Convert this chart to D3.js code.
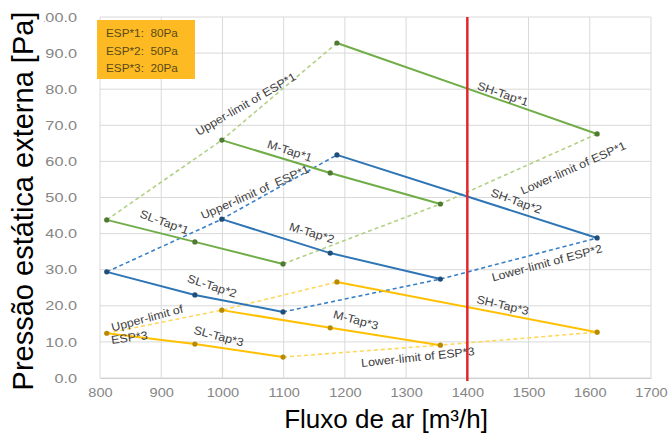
<!DOCTYPE html>
<html>
<head>
<meta charset="utf-8">
<script src="https://cdn.jsdelivr.net/npm/d3@7"></script>
<style>
  html, body { margin: 0; padding: 0; background: #fff; }
  svg { display: block; font-family: "Liberation Sans", Arial, sans-serif; }
</style>
</head>
<body>
<svg id="chart" width="668" height="438"></svg>
<script>
// ---------- DATA ----------
const xTicks = [800, 900, 1000, 1100, 1200, 1300, 1400, 1500, 1600, 1700];
const yTicks = [0, 10, 20, 30, 40, 50, 60, 70, 80, 90, 100];
const refFlow = 1400;

// ESP*1 (80Pa)
const esp1_SL_x = [811, 955, 1099], esp1_SL_y = [43.8, 37.7, 31.6];
const esp1_M_x  = [999, 1176, 1356], esp1_M_y  = [65.9, 56.8, 48.2];
const esp1_SH_x = [1187, 1612],      esp1_SH_y = [92.8, 67.6];
// ESP*2 (50Pa)
const esp2_SL_x = [811, 955, 1099], esp2_SL_y = [29.4, 23.0, 18.3];
const esp2_M_x  = [999, 1176, 1356], esp2_M_y  = [44.0, 34.6, 27.4];
const esp2_SH_x = [1187, 1612],      esp2_SH_y = [61.8, 38.8];
// ESP*3 (20Pa)
const esp3_SL_x = [811, 955, 1099], esp3_SL_y = [12.4, 9.4, 5.8];
const esp3_M_x  = [999, 1176, 1356], esp3_M_y  = [18.8, 13.9, 9.1];
const esp3_SH_x = [1187, 1612],      esp3_SH_y = [26.6, 12.7];

const legendLines = ["ESP*1:  80Pa", "ESP*2:  50Pa", "ESP*3:  20Pa"];

// annotation texts anchored in data units
const labels = [
  {t: "Upper-limit of ESP*1", x: 1038, y: 75.9, a: -30},
  {t: "SH-Tap*1", x: 1458, y: 78.7, a: 19},
  {t: "M-Tap*1", x: 1110, y: 62.9, a: 18},
  {t: "Upper-limit of  ESP*1", x: 1053, y: 51.5, a: -24},
  {t: "M-Tap*2", x: 1146, y: 40.2, a: 17},
  {t: "SL-Tap*1", x: 905, y: 43.2, a: 20},
  {t: "SL-Tap*2", x: 983, y: 25.5, a: 18},
  {t: "Upper-limit of", x: 877, y: 16.6, a: -15},
  {t: "ESP*3", x: 848, y: 11.2, a: -8},
  {t: "SL-Tap*3", x: 994, y: 11.6, a: 15},
  {t: "M-Tap*3", x: 1218, y: 16.1, a: 15},
  {t: "Lower-limit of ESP*3", x: 1319, y: 5.8, a: -6},
  {t: "SH-Tap*3", x: 1458, y: 20.2, a: 13},
  {t: "Lower-limit of ESP*2", x: 1530, y: 31.9, a: -15},
  {t: "SH-Tap*2", x: 1480, y: 49.0, a: 20},
  {t: "Lower-limit of ESP*1", x: 1573, y: 58.2, a: -24}
];

// ---------- LAYOUT ----------
const svg = d3.select("#chart");
const x = d3.scaleLinear().domain([800, 1700]).range([100, 651]);
const y = d3.scaleLinear().domain([0, 100]).range([378, 17]);

function stretch(sel, k) {
  sel.each(function () {
    const w = this.getComputedTextLength();
    d3.select(this).attr("textLength", w * k).attr("lengthAdjust", "spacingAndGlyphs");
  });
}

const zip = (xs, ys) => xs.map((v, i) => [v, ys[i]]);
const groups = [
  {SL: zip(esp1_SL_x, esp1_SL_y), M: zip(esp1_M_x, esp1_M_y), SH: zip(esp1_SH_x, esp1_SH_y),
   solid: "#70AD47", dash: "#B2D183", dot: "#4E7A32"},
  {SL: zip(esp2_SL_x, esp2_SL_y), M: zip(esp2_M_x, esp2_M_y), SH: zip(esp2_SH_x, esp2_SH_y),
   solid: "#2E75B6", dash: "#3A80C4", dot: "#1F4E79"},
  {SL: zip(esp3_SL_x, esp3_SL_y), M: zip(esp3_M_x, esp3_M_y), SH: zip(esp3_SH_x, esp3_SH_y),
   solid: "#FFC000", dash: "#FFD75A", dot: "#B88A00"}
];

// grid
const grid = svg.append("g");
grid.selectAll("line.h").data(yTicks).join("line")
  .attr("x1", x(800)).attr("x2", x(1700))
  .attr("y1", d => y(d)).attr("y2", d => y(d))
  .attr("stroke", "#D9D9D9").attr("stroke-width", 1);
grid.selectAll("line.v").data(xTicks).join("line")
  .attr("y1", y(0)).attr("y2", y(100))
  .attr("x1", d => x(d)).attr("x2", d => x(d))
  .attr("stroke", "#D9D9D9").attr("stroke-width", 1);

// axes (tick labels only)
const xAxis = d3.axisBottom(x).tickValues(xTicks).tickSize(0).tickPadding(10).tickFormat(d3.format("d"));
const gx = svg.append("g").attr("transform", `translate(0,${y(0)})`).call(xAxis);
gx.select(".domain").attr("stroke", "#D0D0D0");
gx.selectAll("text").attr("fill", "#858585").attr("font-size", 13).attr("font-family", "Liberation Sans, Arial, sans-serif");
stretch(gx.selectAll("text"), 1.12);

const yAxis = d3.axisLeft(y).tickValues(yTicks).tickSize(0).tickPadding(23).tickFormat(d3.format(".1f"));
const gy = svg.append("g").attr("transform", `translate(${x(800)},0)`).call(yAxis);
gy.select(".domain").remove();
gy.selectAll("text").attr("fill", "#858585").attr("font-size", 13).attr("font-family", "Liberation Sans, Arial, sans-serif");
stretch(gy.selectAll("text"), 1.25);

// lines
const line = d3.line().x(d => x(d[0])).y(d => y(d[1]));
const plot = svg.append("g");
groups.forEach(g => {
  const upper = [g.SL[0], g.M[0], g.SH[0]];
  const lower = [g.SL[g.SL.length - 1], g.M[g.M.length - 1], g.SH[g.SH.length - 1]];
  [upper, lower].forEach(p => plot.append("path").attr("d", line(p))
    .attr("fill", "none").attr("stroke", g.dash).attr("stroke-width", 1.6)
    .attr("stroke-dasharray", "4,3"));
});
groups.forEach(g => {
  [g.SL, g.M, g.SH].forEach(p => plot.append("path").attr("d", line(p))
    .attr("fill", "none").attr("stroke", g.solid).attr("stroke-width", 2));
});
groups.forEach(g => {
  [g.SL, g.M, g.SH].forEach(p => plot.selectAll(null).data(p).join("circle")
    .attr("cx", d => x(d[0])).attr("cy", d => y(d[1])).attr("r", 2.6)
    .attr("fill", g.dot));
});

// reference line at 1400
svg.append("line").attr("x1", x(refFlow)).attr("x2", x(refFlow))
  .attr("y1", y(100)).attr("y2", y(0) + 3)
  .attr("stroke", "#E3262B").attr("stroke-width", 2.5);

// annotation labels
const lab = svg.append("g").selectAll("text").data(labels).join("text")
  .attr("transform", d => `translate(${x(d.x)},${y(d.y)}) rotate(${d.a})`)
  .attr("text-anchor", "middle").attr("dominant-baseline", "central")
  .attr("font-size", 11.5).attr("fill", "#404040")
  .attr("xml:space", "preserve").style("white-space", "pre")
  .text(d => d.t);
stretch(lab, 1.08);

// legend box
const lg = svg.append("g");
lg.append("rect").attr("x", 97).attr("y", 20).attr("width", 98).attr("height", 59)
  .attr("fill", "#FDBA22");
const lt = lg.selectAll("text").data(legendLines).join("text")
  .attr("x", 106).attr("y", (d, i) => 37 + i * 17.5)
  .attr("font-size", 10.5).attr("fill", "#5A4A1A")
  .attr("xml:space", "preserve").style("white-space", "pre")
  .text(d => d);
stretch(lt, 1.12);

// axis titles
svg.append("rect").attr("x", 0).attr("y", 0).attr("width", 44).attr("height", 400).attr("fill", "#fff");
svg.append("text").attr("transform", "translate(33,201) rotate(-90)")
  .attr("text-anchor", "middle").attr("font-size", 29).attr("fill", "#000")
  .text("Pressão estática externa [Pa]");
svg.append("text").attr("x", 386).attr("y", 428)
  .attr("text-anchor", "middle").attr("font-size", 26).attr("fill", "#000")
  .text("Fluxo de ar [m³/h]");
</script>
</body>
</html>
